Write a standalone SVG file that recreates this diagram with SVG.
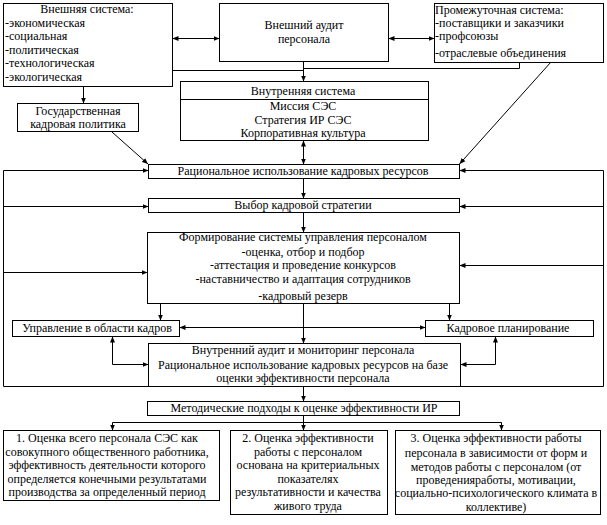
<svg xmlns="http://www.w3.org/2000/svg" width="607" height="525" viewBox="0 0 607 525">
<style>
rect,.b{fill:#fff;stroke:#000;stroke-width:1}
.c path,.c line{fill:none;stroke:#000;stroke-width:1}
text{font-family:"Liberation Serif","Times New Roman",serif;font-size:12px;fill:#000}
.m{text-anchor:middle}
</style>
<defs>
<marker id="ar" viewBox="0 0 6 6" refX="6" refY="3" markerWidth="6" markerHeight="6" markerUnits="userSpaceOnUse" orient="auto-start-reverse"><path d="M0,0.5 L6,3 L0,5.5 z" fill="#000"/></marker>
</defs>
<g id="connectors" class="c">
<line x1="172.5" y1="38.5" x2="219.5" y2="38.5" marker-start="url(#ar)" marker-end="url(#ar)"/>
<line x1="388.5" y1="38.5" x2="434.5" y2="38.5" marker-start="url(#ar)" marker-end="url(#ar)"/>
<path d="M172.5,70.5 H303.5"/>
<path d="M519.5,62.5 V68.5 H303.5"/>
<line x1="303.5" y1="61.5" x2="303.5" y2="81.5" marker-end="url(#ar)"/>
<line x1="83.5" y1="86.5" x2="83.5" y2="103.5" marker-end="url(#ar)"/>
<line x1="112" y1="132" x2="148" y2="164" marker-end="url(#ar)"/>
<line x1="551" y1="62" x2="459.5" y2="164" marker-end="url(#ar)"/>
<line x1="303.5" y1="140.5" x2="303.5" y2="164.5" marker-start="url(#ar)" marker-end="url(#ar)"/>
<line x1="303.5" y1="178.5" x2="303.5" y2="198.5" marker-end="url(#ar)"/>
<line x1="303.5" y1="212.5" x2="303.5" y2="232.5" marker-end="url(#ar)"/>
<path d="M148.5,386.5 H3.5 V170.5"/>
<line x1="3.5" y1="170.5" x2="148.5" y2="170.5" marker-end="url(#ar)"/>
<line x1="3.5" y1="206.5" x2="148.5" y2="206.5" marker-end="url(#ar)"/>
<line x1="3.5" y1="272.5" x2="147.5" y2="272.5" marker-end="url(#ar)"/>
<path d="M460.5,386.5 H603.5 V170.5"/>
<line x1="603.5" y1="170.5" x2="459.5" y2="170.5" marker-end="url(#ar)"/>
<line x1="603.5" y1="206.5" x2="459.5" y2="206.5" marker-end="url(#ar)"/>
<line x1="603.5" y1="265.5" x2="459.5" y2="265.5" marker-end="url(#ar)"/>
<line x1="160.5" y1="303.5" x2="160.5" y2="320.5" marker-end="url(#ar)"/>
<line x1="449.5" y1="303.5" x2="449.5" y2="320.5" marker-end="url(#ar)"/>
<line x1="179.5" y1="327.5" x2="425.5" y2="327.5" marker-start="url(#ar)" marker-end="url(#ar)"/>
<line x1="303.5" y1="303.5" x2="303.5" y2="343.5" marker-end="url(#ar)"/>
<path d="M112.5,336.5 V364.5 H148.5" marker-start="url(#ar)" marker-end="url(#ar)"/>
<path d="M495.5,336.5 V364.5 H460.5" marker-start="url(#ar)" marker-end="url(#ar)"/>
<line x1="303.5" y1="386.5" x2="303.5" y2="401.5" marker-end="url(#ar)"/>
<path d="M303.5,415.5 V422.5 M112.5,422.5 H501.5"/>
<line x1="112.5" y1="422.5" x2="112.5" y2="430.5" marker-end="url(#ar)"/>
<line x1="303.5" y1="422.5" x2="303.5" y2="430.5" marker-end="url(#ar)"/>
<line x1="501.5" y1="422.5" x2="501.5" y2="430.5" marker-end="url(#ar)"/>
</g>
<g id="ext">
<rect x="3.5" y="3.5" width="169" height="83"/>
<text class="m" x="87" y="13">Внешняя система:</text>
<text x="5" y="27">-экономическая</text>
<text x="5" y="40">-социальная</text>
<text x="5" y="54">-политическая</text>
<text x="5" y="67">-технологическая</text>
<text x="5" y="81">-экологическая</text>
</g>
<g id="audit">
<rect x="219.5" y="3.5" width="169" height="58"/>
<text class="m" x="304" y="29">Внешний аудит</text>
<text class="m" x="304" y="43">персонала</text>
</g>
<g id="inter">
<rect x="434.5" y="3.5" width="169" height="59"/>
<text x="435" y="14">Промежуточная система:</text>
<text x="435" y="27">-поставщики и заказчики</text>
<text x="435" y="40">-профсоюзы</text>
<text x="435" y="57">-отраслевые объединения</text>
</g>
<g id="gov">
<rect x="17.5" y="103.5" width="121" height="28"/>
<text class="m" x="78" y="115">Государственная</text>
<text class="m" x="78" y="128">кадровая политика</text>
</g>
<g id="inner">
<rect x="180.5" y="81.5" width="248" height="59"/>
<line class="b" x1="180.5" y1="99.5" x2="428.5" y2="99.5"/>
<text class="m" x="303" y="95">Внутренняя система</text>
<text class="m" x="303" y="110">Миссия СЭС</text>
<text class="m" x="303" y="124">Стратегия ИР СЭС</text>
<text class="m" x="303" y="137">Корпоративная культура</text>
</g>
<g id="rat">
<rect x="148.5" y="164.5" width="311" height="14"/>
<text class="m" x="303" y="175">Рациональное использование кадровых ресурсов</text>
</g>
<g id="vyb">
<rect x="148.5" y="198.5" width="311" height="14"/>
<text class="m" x="303" y="209">Выбор кадровой стратегии</text>
</g>
<g id="form">
<rect x="147.5" y="232.5" width="312" height="71"/>
<text class="m" x="303" y="241">Формирование системы управления персоналом</text>
<text class="m" x="303" y="256">-оценка, отбор и подбор</text>
<text class="m" x="303" y="269">-аттестация и проведение конкурсов</text>
<text class="m" x="303" y="283">-наставничество и адаптация сотрудников</text>
<text class="m" x="303" y="300">-кадровый резерв</text>
</g>
<g id="upr">
<rect x="12.5" y="320.5" width="167" height="16"/>
<text class="m" x="97" y="332">Управление в области кадров</text>
</g>
<g id="kadr">
<rect x="425.5" y="320.5" width="168" height="16"/>
<text class="m" x="508" y="332">Кадровое планирование</text>
</g>
<g id="vnaud">
<rect x="148.5" y="343.5" width="312" height="43"/>
<text class="m" x="303" y="354">Внутренний аудит и мониторинг персонала</text>
<text class="m" x="303" y="369">Рациональное использование кадровых ресурсов на базе</text>
<text class="m" x="303" y="382">оценки эффективности персонала</text>
</g>
<g id="metod">
<rect x="147.5" y="401.5" width="312" height="14"/>
<text class="m" x="304" y="412">Методические подходы к оценке эффективности ИР</text>
</g>
<g id="a1">
<rect x="3.5" y="430.5" width="216" height="70"/>
<text class="m" x="107" y="442">1. Оценка всего  персонала СЭС как</text>
<text class="m" x="107" y="456">совокупного общественного работника,</text>
<text class="m" x="107" y="469">эффективность деятельности которого</text>
<text class="m" x="107" y="483">определяется конечными результатами</text>
<text class="m" x="107" y="496">производства за определенный период</text>
</g>
<g id="a2">
<rect x="230.5" y="430.5" width="157" height="84"/>
<text class="m" x="308" y="442">2. Оценка эффективности</text>
<text class="m" x="308" y="456">работы с персоналом</text>
<text class="m" x="308" y="469">основана на критериальных</text>
<text class="m" x="308" y="483">показателях</text>
<text class="m" x="308" y="496">результативности и качества</text>
<text class="m" x="308" y="510">живого труда</text>
</g>
<g id="a3">
<rect x="395.5" y="430.5" width="205" height="84"/>
<text class="m" x="496" y="442">3. Оценка эффективности работы</text>
<text class="m" x="496" y="457">персонала в зависимости от форм и</text>
<text class="m" x="496" y="471">методов работы с персоналом (от</text>
<text class="m" x="496" y="484">проведенияработы, мотивации,</text>
<text class="m" x="496" y="497">социально-психологического климата в</text>
<text class="m" x="496" y="511">коллективе)</text>
</g>
</svg>
